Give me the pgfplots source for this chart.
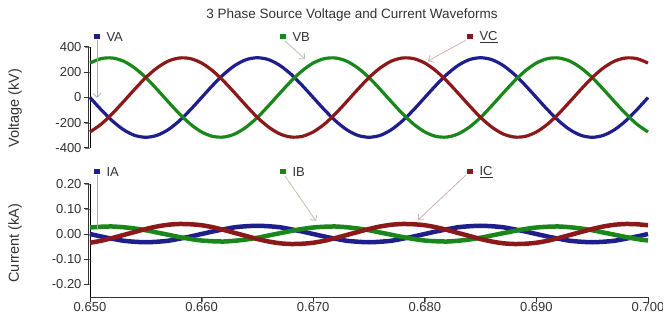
\documentclass[border=0pt]{standalone}
\usepackage{pgfplots}
\pgfplotsset{compat=1.18}
\usepackage{pgfplotstable}
\usepackage{fontspec}
\setmainfont{Liberation Sans}
\usetikzlibrary{arrows.meta}
\definecolor{cA}{RGB}{30,30,140}
\definecolor{cB}{RGB}{25,135,25}
\definecolor{cC}{RGB}{140,25,25}
\definecolor{axc}{RGB}{50,50,50}

\pgfplotstableread{
t VA VB VC IA IB IC
0.650 0 273 -273 0 0.026 -0.035
0.651 -97 308 -211 -0.010 0.029 -0.027
0.652 -185 313 -128 -0.019 0.030 -0.016
0.653 -255 288 -33 -0.027 0.027 -0.004
0.654 -300 234 65 -0.031 0.022 0.008
0.655 -315 158 158 -0.033 0.015 0.020
0.656 -300 65 234 -0.031 0.006 0.030
0.657 -255 -33 288 -0.027 -0.003 0.037
0.658 -185 -128 313 -0.019 -0.012 0.040
0.659 -97 -211 308 -0.010 -0.020 0.039
0.660 0 -273 273 0 -0.026 0.035
0.661 97 -308 211 0.010 -0.029 0.027
0.662 185 -313 128 0.019 -0.030 0.016
0.663 255 -288 33 0.027 -0.027 0.004
0.664 300 -234 -65 0.031 -0.022 -0.008
0.665 315 -158 -158 0.033 -0.015 -0.020
0.666 300 -65 -234 0.031 -0.006 -0.030
0.667 255 33 -288 0.027 0.003 -0.037
0.668 185 128 -313 0.019 0.012 -0.040
0.669 97 211 -308 0.010 0.020 -0.039
0.670 0 273 -273 0 0.026 -0.035
0.671 -97 308 -211 -0.010 0.029 -0.027
0.672 -185 313 -128 -0.019 0.030 -0.016
0.673 -255 288 -33 -0.027 0.027 -0.004
0.674 -300 234 65 -0.031 0.022 0.008
0.675 -315 158 158 -0.033 0.015 0.020
0.676 -300 65 234 -0.031 0.006 0.030
0.677 -255 -33 288 -0.027 -0.003 0.037
0.678 -185 -128 313 -0.019 -0.012 0.040
0.679 -97 -211 308 -0.010 -0.020 0.039
0.680 0 -273 273 0 -0.026 0.035
0.681 97 -308 211 0.010 -0.029 0.027
0.682 185 -313 128 0.019 -0.030 0.016
0.683 255 -288 33 0.027 -0.027 0.004
0.684 300 -234 -65 0.031 -0.022 -0.008
0.685 315 -158 -158 0.033 -0.015 -0.020
0.686 300 -65 -234 0.031 -0.006 -0.030
0.687 255 33 -288 0.027 0.003 -0.037
0.688 185 128 -313 0.019 0.012 -0.040
0.689 97 211 -308 0.010 0.020 -0.039
0.690 0 273 -273 0 0.026 -0.035
0.691 -97 308 -211 -0.010 0.029 -0.027
0.692 -185 313 -128 -0.019 0.030 -0.016
0.693 -255 288 -33 -0.027 0.027 -0.004
0.694 -300 234 65 -0.031 0.022 0.008
0.695 -315 158 158 -0.033 0.015 0.020
0.696 -300 65 234 -0.031 0.006 0.030
0.697 -255 -33 288 -0.027 -0.003 0.037
0.698 -185 -128 313 -0.019 -0.012 0.040
0.699 -97 -211 308 -0.010 -0.020 0.039
0.700 0 -273 273 0 -0.026 0.035
}\wave

\pgfplotsset{
  common/.style={
    scale only axis, width=558pt,
    xmin=0.65, xmax=0.70,
    tick align=outside, major tick length=5pt,
    every tick label/.append style={font=\fontsize{13}{15}\selectfont, text=axc},
    clip=false,
  },
}

\begin{document}
\begin{tikzpicture}
\useasboundingbox (0pt,0pt) rectangle (663pt,324pt);

% Voltage panel
\begin{axis}[common,
  at={(90pt,176pt)}, anchor=south west, height=101pt,
  ymin=-400, ymax=400,
  axis x line=none, axis y line*=left,
  ytick={-400,-200,0,200,400},
  yticklabels={-400,-200,0,200,400},
]
\addplot[cA, line width=3.2pt, smooth] table[x=t, y=VA] {\wave};
\addplot[cB, line width=3.2pt, smooth] table[x=t, y=VB] {\wave};
\addplot[cC, line width=3.2pt, smooth] table[x=t, y=VC] {\wave};
\end{axis}

% Current panel
\begin{axis}[common,
  at={(90pt,27pt)}, anchor=south west, height=113pt,
  ymin=-0.252, ymax=0.2,
  axis x line*=bottom, axis y line*=left,
  ytick={-0.2,-0.1,0,0.1,0.2},
  yticklabels={-0.20,-0.10,0.00,0.10,0.20},
  xtick={0.65,0.66,0.67,0.68,0.69,0.70},
  xticklabels={0.650,0.660,0.670,0.680,0.690,0.700},
  xticklabel style={yshift=3pt},
]
\addplot[cA, line width=4.5pt, smooth] table[x=t, y=IA] {\wave};
\addplot[cB, line width=4.5pt, smooth] table[x=t, y=IB] {\wave};
\addplot[cC, line width=4.5pt, smooth] table[x=t, y=IC] {\wave};
\end{axis}

% axis lines and ticks (drawn in picture coordinates)
\begin{scope}[black!80, line width=1pt]
% voltage y axis: 90pt, 176pt..277pt
\draw (88.5pt,176pt) -- (88.5pt,277pt);
\draw (83.5pt,176pt) -- (88.5pt,176pt);
\draw (83.5pt,201.25pt) -- (88.5pt,201.25pt);
\draw (83.5pt,226.5pt) -- (88.5pt,226.5pt);
\draw (83.5pt,251.75pt) -- (88.5pt,251.75pt);
\draw (83.5pt,277pt) -- (88.5pt,277pt);
% current y axis: -0.2 at 40pt, 0.2 at 140pt
\draw (88.5pt,40pt) -- (88.5pt,140pt);
\draw (83.5pt,40pt) -- (88.5pt,40pt);
\draw (83.5pt,65pt) -- (88.5pt,65pt);
\draw (83.5pt,90pt) -- (88.5pt,90pt);
\draw (83.5pt,115pt) -- (88.5pt,115pt);
\draw (83.5pt,140pt) -- (88.5pt,140pt);
% x axis at 27pt
\draw (90pt,27pt) -- (648pt,27pt);
\draw (90pt,27pt) -- (90pt,22pt);
\draw (201.6pt,27pt) -- (201.6pt,22pt);
\draw (313.2pt,27pt) -- (313.2pt,22pt);
\draw (424.8pt,27pt) -- (424.8pt,22pt);
\draw (536.4pt,27pt) -- (536.4pt,22pt);
\draw (648pt,27pt) -- (648pt,22pt);
\end{scope}

% titles and labels
\node[font=\fontsize{13.5}{15}\selectfont, text=axc] at (352pt,309pt) {3 Phase Source Voltage and Current Waveforms};
\node[rotate=90, font=\fontsize{14.5}{16}\selectfont, text=axc] at (15pt,216pt) {Voltage (kV)};
\node[rotate=90, font=\fontsize{14.5}{16}\selectfont, text=axc] at (15pt,81pt) {Current (kA)};

% annotations voltage
\draw[draw={rgb,255:red,165;green,170;blue,210}, line width=0.8pt, -{Straight Barb[length=4pt]}] (97pt,284pt) -- (97pt,226pt);
\fill[cA] (93.5pt,284.5pt) rectangle (100pt,290pt);
\node[anchor=west, font=\fontsize{13}{15}\selectfont, text=axc] at (103pt,287pt) {VA};
\draw[draw={rgb,255:red,185;green,195;blue,175}, line width=0.8pt, -{Straight Barb[length=4pt]}] (285pt,283pt) -- (305pt,265pt);
\fill[cB] (279.5pt,284.5pt) rectangle (286pt,290pt);
\node[anchor=west, font=\fontsize{13}{15}\selectfont, text=axc] at (289pt,287pt) {VB};
\draw[draw={rgb,255:red,215;green,175;blue,175}, line width=0.8pt, -{Straight Barb[length=4pt]}] (466pt,284pt) -- (428pt,263pt);
\fill[cC] (466.5pt,284.5pt) rectangle (473pt,290pt);
\node[anchor=west, font=\fontsize{13}{15}\selectfont, text=axc] at (476pt,287pt) {\underline{VC}};

% annotations current
\draw[draw={rgb,255:red,165;green,170;blue,210}, line width=0.8pt] (97pt,149pt) -- (97pt,94pt);
\fill[cA] (93.5pt,149.5pt) rectangle (100pt,155pt);
\node[anchor=west, font=\fontsize{13}{15}\selectfont, text=axc] at (103pt,152pt) {IA};
\draw[draw={rgb,255:red,185;green,195;blue,175}, line width=0.8pt, -{Straight Barb[length=4pt]}] (285pt,148pt) -- (316pt,103pt);
\fill[cB] (279.5pt,149.5pt) rectangle (286pt,155pt);
\node[anchor=west, font=\fontsize{13}{15}\selectfont, text=axc] at (289pt,152pt) {IB};
\draw[draw={rgb,255:red,215;green,175;blue,175}, line width=0.8pt, -{Straight Barb[length=4pt]}] (466pt,149pt) -- (418pt,104pt);
\fill[cC] (466.5pt,149.5pt) rectangle (473pt,155pt);
\node[anchor=west, font=\fontsize{13}{15}\selectfont, text=axc] at (476pt,152pt) {\underline{IC}};
\end{tikzpicture}
\end{document}
